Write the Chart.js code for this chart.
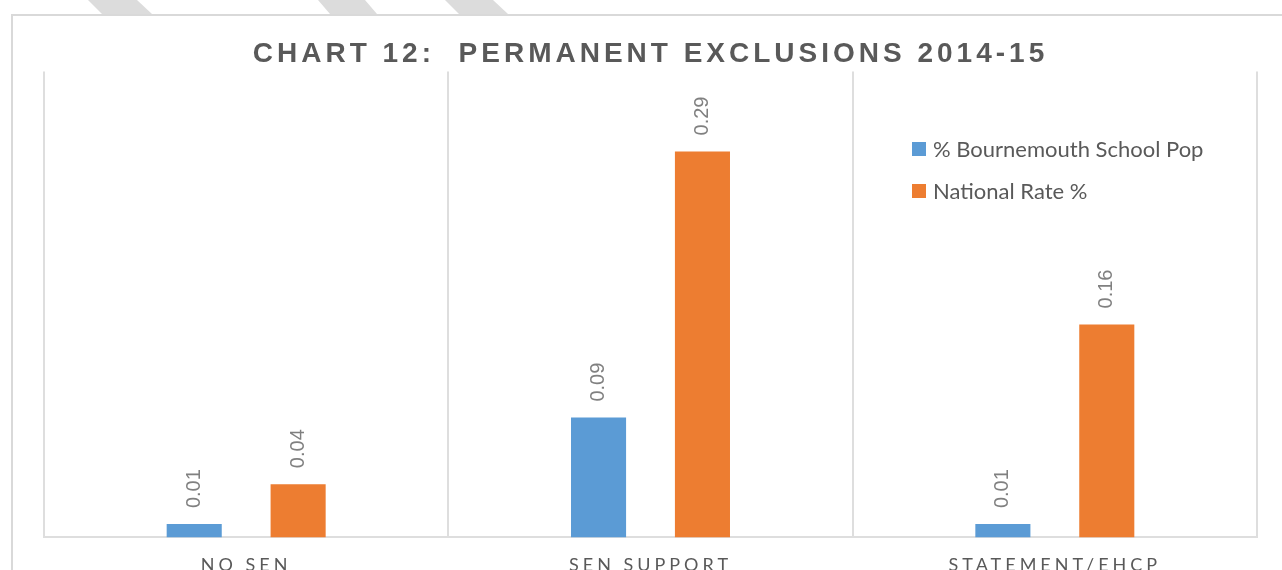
<!DOCTYPE html>
<html>
<head>
<meta charset="utf-8">
<script src="https://cdn.jsdelivr.net/npm/chart.js@4.4.0/dist/chart.umd.min.js"></script>
<style>
    html, body { margin: 0; padding: 0; background: #fff; overflow: hidden; }
    .stripe { position: absolute; top: 0; height: 14px; background: #dcdcdc; }
    #frame { position: absolute; left: 11px; top: 14px; width: 1300px; height: 600px;
             border-left: 2px solid #d9d9d9; border-top: 2px solid #d9d9d9; }
    #frame canvas { display: block; }
</style>
</head>
<body>
<div class="stripe" style="left:88px;width:64px;clip-path:polygon(0 0,49px 0,64px 14px,14px 14px)"></div>
<div class="stripe" style="left:318px;width:59px;clip-path:polygon(0 0,47px 0,59px 14px,12px 14px)"></div>
<div class="stripe" style="left:445px;width:63px;clip-path:polygon(0 0,48px 0,63px 14px,14px 14px)"></div>
<div id="frame"><canvas id="barChart" width="1276" height="580"></canvas></div>

<script>
var categories = ['NO SEN', 'SEN SUPPORT', 'STATEMENT/EHCP'];
var seriesNames = ['% Bournemouth School Pop', 'National Rate %'];
var bournemouthValues = [0.01, 0.09, 0.01];
var nationalValues = [0.04, 0.29, 0.16];
var seriesColors = ['#5b9bd5', '#ed7d31'];
var yMin = 0;
var yMax = 0.35;

// spaced out capitals for title and category labels
var letterSpacing = {
    id: 'letterSpacing',
    beforeDraw: function(chart) {
        chart.ctx.letterSpacing = '4px';
    }
};

// rotated value labels above each bar
var valueLabels = {
    id: 'valueLabels',
    afterDatasetsDraw: function(chart) {
        var ctx = chart.ctx;
        ctx.save();
        ctx.letterSpacing = '0px';
        ctx.font = '20px "Liberation Sans"';
        ctx.fillStyle = '#808080';
        ctx.textAlign = 'left';
        ctx.textBaseline = 'middle';
        chart.data.datasets.forEach(function(ds, i) {
            chart.getDatasetMeta(i).data.forEach(function(bar, j) {
                ctx.save();
                ctx.translate(bar.x, bar.y - 16);
                ctx.rotate(-Math.PI / 2);
                ctx.fillText(ds.data[j].toFixed(2), 0, 0);
                ctx.restore();
            });
        });
        ctx.restore();
    }
};

// legend inside the plot, top right
var insideLegend = {
    id: 'insideLegend',
    afterDraw: function(chart) {
        var ctx = chart.ctx;
        var x = 899, y = 133;
        ctx.save();
        ctx.letterSpacing = '0px';
        ctx.font = '22px Lato';
        ctx.textAlign = 'left';
        ctx.textBaseline = 'middle';
        chart.data.datasets.forEach(function(ds, i) {
            ctx.fillStyle = ds.backgroundColor;
            ctx.fillRect(x, y + i * 42 - 7, 14, 14);
            ctx.fillStyle = '#595959';
            ctx.fillText(ds.label, x + 21, y + i * 42 + 1);
        });
        ctx.restore();
    }
};

var ctx = document.getElementById('barChart');
var chart = new Chart(ctx, {
    type: 'bar',
    data: {
        labels: categories,
        datasets: [{
            label: seriesNames[0],
            data: bournemouthValues,
            backgroundColor: seriesColors[0]
        }, {
            label: seriesNames[1],
            data: nationalValues,
            backgroundColor: seriesColors[1]
        }]
    },
    options: {
        responsive: false,
        animation: false,
        categoryPercentage: 0.514,
        barPercentage: 0.53,
        layout: {
            padding: { left: 31, right: 32, top: 0, bottom: 3 }
        },
        plugins: {
            legend: { display: false },
            tooltip: { enabled: false },
            title: {
                display: true,
                text: 'CHART 12:  PERMANENT EXCLUSIONS 2014-15',
                color: '#595959',
                font: { family: '"Liberation Sans"', size: 28, weight: 'bold', lineHeight: 1.2 },
                padding: { top: 21, bottom: 1 }
            }
        },
        scales: {
            x: {
                grid: { offset: true, color: '#dedede', lineWidth: 2, drawTicks: false },
                border: { color: '#dedede', width: 2 },
                ticks: {
                    color: '#595959',
                    font: { family: 'Lato', size: 18, lineHeight: 1.2 },
                    padding: 17,
                    maxRotation: 0,
                    autoSkip: false
                }
            },
            y: {
                display: false,
                min: yMin,
                max: yMax
            }
        }
    },
    plugins: [letterSpacing, valueLabels, insideLegend]
});
</script>
</body>
</html>
